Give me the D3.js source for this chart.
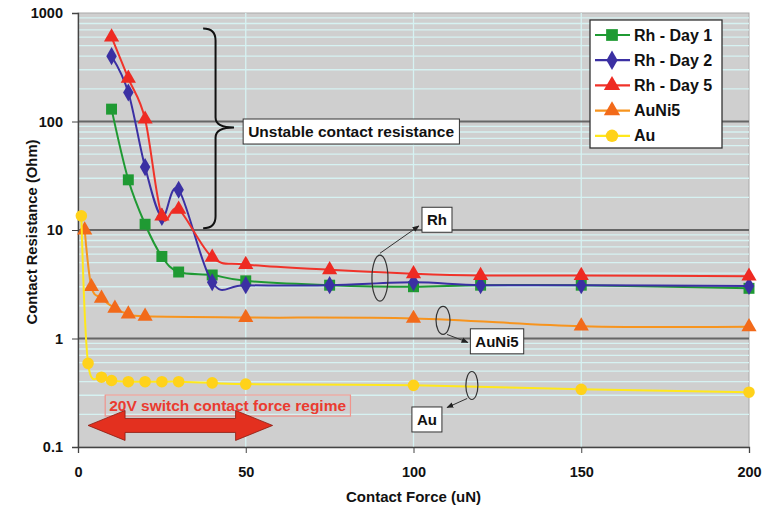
<!DOCTYPE html>
<html>
<head>
<meta charset="utf-8">
<script src="https://cdn.jsdelivr.net/npm/d3@7"></script>
<style>
  body { margin: 0; background: #fff; }
  text { font-family: "Liberation Sans", Arial, sans-serif; font-weight: bold; }
</style>
</head>
<body>
<div id="container"></div>
<script>
/* DATA */
const rhX = [10, 15, 20, 25, 30, 40, 50, 75, 100, 120, 150, 200];
const rhDay1 = [130, 29, 11.3, 5.7, 4.1, 3.85, 3.4, 3.1, 3.0, 3.1, 3.1, 2.9];
const rhDay2 = [400, 185, 38, 13.2, 23.5, 3.3, 3.1, 3.1, 3.3, 3.1, 3.1, 3.05];
const rhDay5 = [600, 250, 105, 13.4, 15.5, 5.6, 4.8, 4.3, 3.95, 3.8, 3.8, 3.75];
const auNi5X = [2, 4, 7, 11, 15, 20, 50, 100, 150, 200];
const auNi5 = [10, 3.0, 2.35, 1.9, 1.68, 1.6, 1.56, 1.53, 1.3, 1.28];
const auX = [1, 3, 7, 10, 15, 20, 25, 30, 40, 50, 100, 150, 200];
const au = [13.5, 0.59, 0.44, 0.41, 0.40, 0.40, 0.40, 0.40, 0.39, 0.38, 0.37, 0.34, 0.32];

const xTicks = [0, 50, 100, 150, 200];
const yTicks = [0.1, 1, 10, 100, 1000];
const yTickLabels = ["0.1", "1", "10", "100", "1000"];

/* CONSTANTS */
const margin = {top: 13, right: 14, bottom: 65, left: 78};
const W = 763, H = 512;
const width = W - margin.left - margin.right;
const height = H - margin.top - margin.bottom;

const series = [
  {name: "Rh - Day 1", xs: rhX, ys: rhDay1, line: "#1f9a33", fill: "#1f9a33", shape: d3.symbolSquare, size: 120},
  {name: "Rh - Day 2", xs: rhX, ys: rhDay2, line: "#3b30a3", fill: "#3b30a3", shape: d3.symbolDiamond, size: 95},
  {name: "Rh - Day 5", xs: rhX, ys: rhDay5, line: "#f0332a", fill: "#ee2a22", shape: d3.symbolTriangle, size: 100},
  {name: "AuNi5", xs: auNi5X, ys: auNi5, line: "#f7941e", fill: "#f26a1a", shape: d3.symbolTriangle, size: 100},
  {name: "Au", xs: auX, ys: au, line: "#ffe81c", fill: "#ffd21a", shape: d3.symbolCircle, size: 105}
];

const svg = d3.select("#container").append("svg")
  .attr("width", W).attr("height", H);

const x = d3.scaleLinear().domain([0, 200]).range([margin.left, margin.left + width]);
const y = d3.scaleLog().domain([0.1, 1000]).range([margin.top + height, margin.top]);

/* PLOT AREA */
svg.append("rect")
  .attr("x", x(0)).attr("y", y(1000))
  .attr("width", x(200) - x(0)).attr("height", y(0.1) - y(1000))
  .attr("fill", "#cfcfcf").attr("stroke", "#a9a9a9");

// minor gridlines
const minor = [];
[0.1, 1, 10, 100].forEach(d => { for (let k = 2; k <= 9; k++) minor.push(d * k); });
svg.append("g").selectAll("line").data(minor).join("line")
  .attr("x1", x(0)).attr("x2", x(200))
  .attr("y1", d => y(d)).attr("y2", d => y(d))
  .attr("stroke", "#d6f2f2").attr("stroke-width", 1.3);

svg.append("g").selectAll("line").data([50, 100, 150]).join("line")
  .attr("x1", d => x(d)).attr("x2", d => x(d))
  .attr("y1", y(1000)).attr("y2", y(0.1))
  .attr("stroke", "#d6f2f2").attr("stroke-width", 1.3);

svg.append("g").selectAll("line").data([1, 10, 100]).join("line")
  .attr("x1", x(0)).attr("x2", x(200))
  .attr("y1", d => y(d)).attr("y2", d => y(d))
  .attr("stroke", "#666").attr("stroke-width", 2);

/* AXES */
const yAxis = svg.append("g")
  .attr("transform", `translate(${x(0)},0)`)
  .call(d3.axisLeft(y).tickValues(yTicks).tickFormat((d, i) => yTickLabels[i]).tickSize(6).tickPadding(9));
const xAxis = svg.append("g")
  .attr("transform", `translate(0,${y(0.1)})`)
  .call(d3.axisBottom(x).tickValues(xTicks).tickSize(6).tickPadding(14));
[yAxis, xAxis].forEach(a => {
  a.select(".domain").attr("stroke", "#444").attr("stroke-width", 1.3);
  a.selectAll(".tick line").attr("stroke", "#444");
  a.selectAll("text").attr("font-size", 14.5).attr("fill", "#111");
});

svg.append("text")
  .attr("transform", `translate(37,${y(0.1) - height / 2 + 2}) rotate(-90)`)
  .attr("text-anchor", "middle").attr("font-size", 14.8).attr("fill", "#111")
  .text("Contact Resistance (Ohm)");
svg.append("text")
  .attr("x", (x(0) + x(200)) / 2).attr("y", 502)
  .attr("text-anchor", "middle").attr("font-size", 15).attr("fill", "#111")
  .text("Contact Force (uN)");

/* ANNOTATIONS (drawn under data) */
const ann = svg.append("g");

// 20V regime box and arrow
const regime = ann.append("g");
const rt = regime.append("text")
  .attr("x", x(44.6)).attr("y", y(0.241) + 5.5)
  .attr("text-anchor", "middle").attr("font-size", 15.5).attr("fill", "#ea3b30")
  .text("20V switch contact force regime");
const rb = rt.node().getBBox();
regime.insert("rect", "text")
  .attr("x", rb.x - 4).attr("y", rb.y - 2).attr("width", rb.width + 8).attr("height", rb.height + 4)
  .attr("fill", "none").attr("stroke", "#f0948c").attr("stroke-width", 1.2);

const ax0 = x(3), ax1 = x(58), ay = y(0.158);
const headL = 37, headH = 15, shaftH = 7;
ann.append("path")
  .attr("d", `M${ax0},${ay} L${ax0 + headL},${ay - headH} L${ax0 + headL},${ay - shaftH}
    L${ax1 - headL},${ay - shaftH} L${ax1 - headL},${ay - headH} L${ax1},${ay}
    L${ax1 - headL},${ay + headH} L${ax1 - headL},${ay + shaftH} L${ax0 + headL},${ay + shaftH}
    L${ax0 + headL},${ay + headH} Z`)
  .attr("fill", "#e3301f").attr("stroke", "#8a1a10").attr("stroke-width", 0.8);

/* SERIES */
const line = d3.line()
  .x(d => x(d[0])).y(d => y(d[1]))
  .curve(d3.curveCardinal.tension(0));

series.forEach(s => {
  const pts = s.xs.map((v, i) => [v, s.ys[i]]);
  svg.append("path").datum(pts)
    .attr("d", line).attr("fill", "none")
    .attr("stroke", s.line).attr("stroke-width", 2);
  svg.append("g").selectAll("path").data(pts).join("path")
    .attr("transform", d => `translate(${x(d[0])},${y(d[1])})`)
    .attr("d", d3.symbol().type(s.shape).size(s.size))
    .attr("fill", s.fill);
});

/* CALLOUTS */
svg.append("defs").append("marker")
  .attr("id", "arr").attr("viewBox", "0 0 10 10").attr("refX", 9).attr("refY", 5)
  .attr("markerWidth", 7).attr("markerHeight", 7).attr("orient", "auto")
  .append("path").attr("d", "M0,1 L10,5 L0,9 Z").attr("fill", "#222");

function boxedText(g, label, cx, cy, size, padX, padY) {
  const t = g.append("text")
    .attr("x", cx).attr("y", cy + size * 0.36)
    .attr("text-anchor", "middle").attr("font-size", size).attr("fill", "#111")
    .text(label);
  const b = t.node().getBBox();
  g.insert("rect", "text")
    .attr("x", b.x - padX).attr("y", b.y - padY).attr("width", b.width + 2 * padX).attr("height", b.height + 2 * padY)
    .attr("fill", "#fff").attr("stroke", "#333").attr("stroke-width", 1);
}

function callout(label, ex, ey, rx, ry, a0, a1, bx, by) {
  const g = svg.append("g");
  g.append("ellipse")
    .attr("cx", x(ex)).attr("cy", y(ey)).attr("rx", rx).attr("ry", ry)
    .attr("fill", "none").attr("stroke", "#333").attr("stroke-width", 1.2);
  g.append("line")
    .attr("x1", x(a0[0])).attr("y1", y(a0[1])).attr("x2", x(a1[0])).attr("y2", y(a1[1]))
    .attr("stroke", "#333").attr("stroke-width", 1).attr("marker-end", "url(#arr)");
  boxedText(g, label, x(bx), y(by), 15, 5, 4);
}
callout("Rh", 90, 3.6, 8, 23, [90, 6.1], [101.6, 10.9], 107, 12.4);
callout("AuNi5", 108.8, 1.47, 7, 14, [110, 1.09], [116.2, 0.92], 124.9, 0.94);
callout("Au", 117.4, 0.369, 6, 14, [116, 0.28], [110, 0.231], 104, 0.179);

// brace
const bx0 = x(37.3), bx1 = x(41), btip = x(46.5);
const bTop = y(720), bMid = y(88), bBot = y(10.4);
svg.append("path")
  .attr("d", `M${bx0},${bTop} Q${bx1},${bTop} ${bx1},${bTop + 12} L${bx1},${bMid - 10}
    Q${bx1},${bMid} ${btip},${bMid} Q${bx1},${bMid} ${bx1},${bMid + 10}
    L${bx1},${bBot - 12} Q${bx1},${bBot} ${bx0},${bBot}`)
  .attr("fill", "none").attr("stroke", "#111").attr("stroke-width", 2);
boxedText(svg.append("g"), "Unstable contact resistance", x(81.4), y(81), 15.5, 5, 4);

/* LEGEND */
const lg = svg.append("g").attr("transform", "translate(590,20)");
lg.append("rect").attr("width", 132).attr("height", 128)
  .attr("fill", "#fff").attr("stroke", "#333").attr("stroke-width", 1.3);
const item = lg.selectAll("g.item").data(series).join("g")
  .attr("class", "item")
  .attr("transform", (d, i) => `translate(0,${15 + i * 25.2})`);
item.append("line").attr("x1", 5).attr("x2", 40)
  .attr("stroke", d => d.line).attr("stroke-width", 2.2);
item.append("path").attr("transform", "translate(22,0)")
  .attr("d", d => d3.symbol().type(d.shape).size(d.size * 1.15)())
  .attr("fill", d => d.fill);
item.append("text").attr("x", 44).attr("y", 5.5)
  .attr("font-size", 16).attr("fill", "#111")
  .text(d => d.name);
</script>
</body>
</html>
